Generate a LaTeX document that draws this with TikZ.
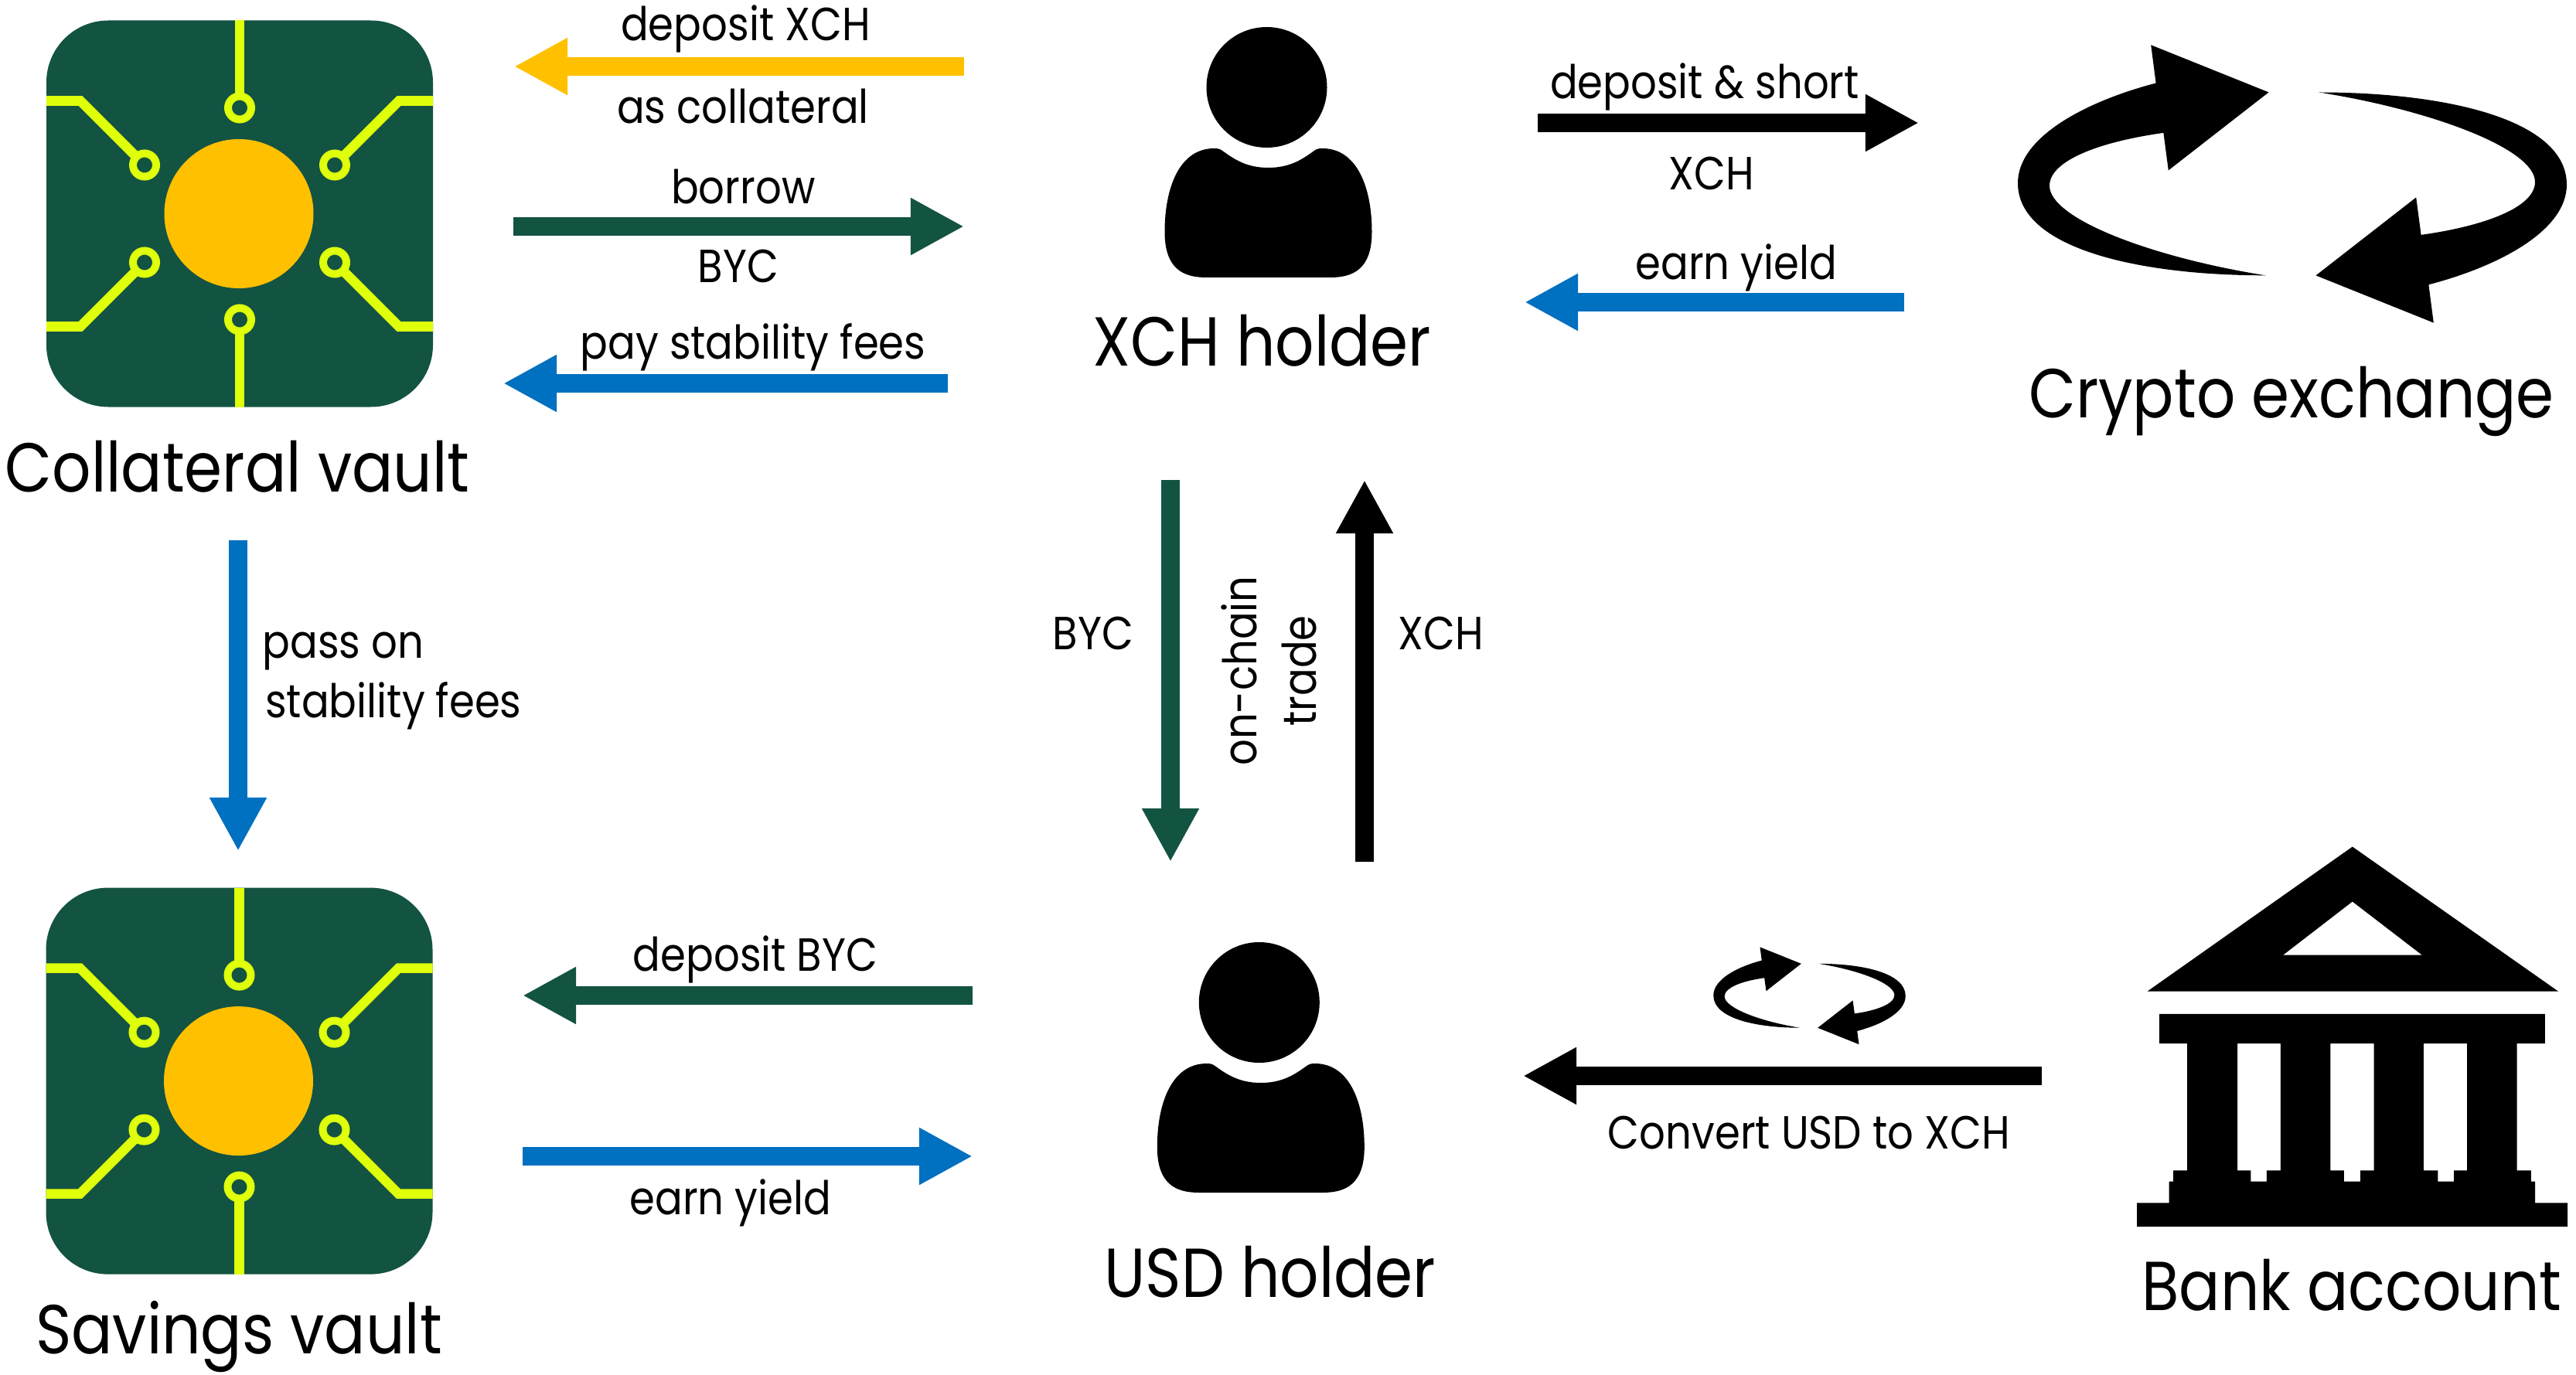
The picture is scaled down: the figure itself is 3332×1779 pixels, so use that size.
\documentclass[tikz,border=0pt]{standalone}
\usepackage{fontspec}
\setmainfont[FakeStretch=0.88]{Poppins}
\usetikzlibrary{arrows.meta}
\definecolor{vaultgreen}{HTML}{135342}
\definecolor{tracelime}{HTML}{DFFF0B}
\definecolor{coinamber}{HTML}{FFC000}
\definecolor{yieldblue}{HTML}{0070C0}
\tikzset{
    flow/.style={line width=.24cm,-{Triangle[length=.69cm,width=.69cm]}},
    biglabel/.style={anchor=base,inner sep=0pt,font=\fontsize{25.5}{30}\selectfont},
    smalllabel/.style={anchor=base,inner sep=0pt,font=\fontsize{17.1}{20}\selectfont},
    trace/.style={draw=tracelime,line width=.125cm},
    ring/.style={draw=tracelime,fill=vaultgreen,line width=.1cm},
    vault/.pic={
        \fill[vaultgreen,rounded corners=.8cm] (-250,-250) rectangle (250,250);
        \draw[trace] (0,-250) -- (0,-137);
        \draw[trace] (0,250) -- (0,137);
        \draw[trace] (-250,-146) -- (-206,-146) -- (-123,-63);
        \draw[trace] (250,-146) -- (206,-146) -- (123,-63);
        \draw[trace] (-250,146) -- (-206,146) -- (-123,63);
        \draw[trace] (250,146) -- (206,146) -- (123,63);
        \foreach \ringx/\ringy in {0/-137,0/137,-123/-63,123/-63,-123/63,123/63}
            \draw[ring] (\ringx,\ringy) circle (15);
        \fill[coinamber] (-1,0) circle (96.5);
    },
    holder/.pic={
        \fill (-2,0) circle (78);
        \fill (0,104) .. controls (-28,104) and (-44,93) .. (-58,83)
            .. controls (-62,80) and (-64,79) .. (-70,79)
            .. controls (-115,79) and (-134,130) .. (-134,187)
            .. controls (-134,235) and (-110,246) .. (-80,246)
            -- (80,246)
            .. controls (110,246) and (134,235) .. (134,187)
            .. controls (134,130) and (115,79) .. (70,79)
            .. controls (64,79) and (62,80) .. (58,83)
            .. controls (44,93) and (28,104) .. (0,104) -- cycle;
    },
    swap/.pic={
        \foreach \turn in {0,180}
            \fill[rotate=\turn] (-30.5,-118.5) -- (-182.8,-179.7) -- (-176.4,-130.4)
                .. controls (-266,-107) and (-355,-61) .. (-355,-1)
                .. controls (-355,84) and (-197,118.5) .. (-34.6,118.4)
                .. controls (-177,96) and (-314,46) .. (-314,2.4)
                .. controls (-314,-31) and (-246,-55) .. (-166.6,-66)
                -- (-160.2,-17.5) -- cycle;
    },
}
\begin{document}
\begin{tikzpicture}[x=.01cm,y=-.01cm]
    \useasboundingbox (0,0) rectangle (3332,1779);

    \pic at (310,276.5) {vault};
    \pic at (309.5,1398.6) {vault};
    \pic at (1640.5,113) {holder};
    \pic at (1630.8,1297) {holder};
    \pic at (2965,237.9) {swap};
    \pic[scale=.35] at (2340.5,1288.3) {swap};

    \fill[even odd rule] (3042.8,1095.5) -- (3308.9,1282.5) -- (2777.7,1282.5) -- cycle
        (3042.8,1166.5) -- (3132.6,1235.5) -- (2953.3,1235.5) -- cycle;
    \fill[even odd rule] (2793.2,1311.8) -- (3291.9,1311.8) -- (3291.9,1350.2) -- (3255.7,1350.2)
        -- (3255.7,1514.3) -- (3273.8,1514.3) -- (3273.8,1528.6) -- (3279.1,1528.6)
        -- (3279.1,1556.3) -- (3321,1556.3) -- (3321,1587) -- (2764.2,1587)
        -- (2764.2,1556.3) -- (2805.7,1556.3) -- (2805.7,1528.6) -- (2811,1528.6)
        -- (2811,1514.3) -- (2829,1514.3) -- (2829,1350.2) -- (2793.2,1350.2) -- cycle
        (2894,1350.2) -- (2949.9,1350.2) -- (2949.9,1514.3) -- (2931.8,1514.3) -- (2931.8,1528.6)
        -- (2911.4,1528.6) -- (2911.4,1514.3) -- (2894,1514.3) -- cycle
        (3014.4,1350.2) -- (3070.7,1350.2) -- (3070.7,1514.3) -- (3053,1514.3) -- (3053,1528.6)
        -- (3031.8,1528.6) -- (3031.8,1514.3) -- (3014.4,1514.3) -- cycle
        (3134.9,1350.2) -- (3191.1,1350.2) -- (3191.1,1514.3) -- (3174.1,1514.3) -- (3174.1,1528.6)
        -- (3153.3,1528.6) -- (3153.3,1514.3) -- (3134.9,1514.3) -- cycle;

    \node[biglabel] (collateral) at (307,636) {Collateral vault};
    \node[biglabel] (savings) at (309,1751) {Savings vault};
    \node[biglabel] (xchholder) at (1632.5,473) {XCH holder};
    \node[biglabel] (usdholder) at (1643,1678) {USD holder};
    \node[biglabel] (crypto) at (2964,541) {Crypto exchange};
    \node[biglabel] (bank) at (3042,1695) {Bank account};

    \coordinate (yellowtail) at (1247,86);
    \coordinate (yellowtip) at (665,86);
    \coordinate (borrowtail) at (664,293);
    \coordinate (borrowtip) at (1247,293);
    \coordinate (feestail) at (1226,496);
    \coordinate (feestip) at (651,496);
    \coordinate (shorttail) at (1989,159);
    \coordinate (shorttip) at (2482,159);
    \coordinate (yieldtail) at (2463,391);
    \coordinate (yieldtip) at (1972,391);
    \coordinate (bycdowntail) at (1514,621);
    \coordinate (bycdowntip) at (1514,1115);
    \coordinate (xchuptail) at (1765,1115);
    \coordinate (xchuptip) at (1765,621);
    \coordinate (passtail) at (308,699);
    \coordinate (passtip) at (308,1101);
    \coordinate (savetail) at (1258,1288);
    \coordinate (savetip) at (676,1288);
    \coordinate (backtail) at (676,1496);
    \coordinate (backtip) at (1258,1496);
    \coordinate (converttail) at (2641,1392);
    \coordinate (converttip) at (1970,1392);

    \draw[flow,coinamber] (yellowtail) -- (yellowtip);
    \draw[flow,vaultgreen] (borrowtail) -- (borrowtip);
    \draw[flow,yieldblue] (feestail) -- (feestip);
    \draw[flow,black] (shorttail) -- (shorttip);
    \draw[flow,yieldblue] (yieldtail) -- (yieldtip);
    \draw[flow,vaultgreen] (bycdowntail) -- (bycdowntip);
    \draw[flow,black] (xchuptail) -- (xchuptip);
    \draw[flow,yieldblue] (passtail) -- (passtip);
    \draw[flow,vaultgreen] (savetail) -- (savetip);
    \draw[flow,yieldblue] (backtail) -- (backtip);
    \draw[flow,black] (converttail) -- (converttip);

    \node[smalllabel] (depositxch) at (964.5,53) {deposit XCH};
    \node[smalllabel] (ascollateral) at (961,160) {as collateral};
    \node[smalllabel] (borrow) at (961.4,264) {borrow};
    \node[smalllabel] (bycone) at (955,365) {BYC};
    \node[smalllabel] (payfees) at (974,464) {pay stability fees};
    \node[smalllabel] (depositshort) at (2205,128) {deposit \& short};
    \node[smalllabel] (xchone) at (2214,246) {XCH};
    \node[smalllabel] (earnone) at (2246,361) {earn yield};
    \node[smalllabel] (byctwo) at (1414,840) {BYC};
    \node[smalllabel,rotate=90] (onchain) at (1625,868) {on-chain};
    \node[smalllabel,rotate=90] (trade) at (1702,868) {trade};
    \node[smalllabel] (xchtwo) at (1864,840) {XCH};
    \node[smalllabel] (passon) at (444,851) {pass on};
    \node[smalllabel] (stability) at (509,928) {stability fees};
    \node[smalllabel] (depositbyc) at (977,1256) {deposit BYC};
    \node[smalllabel] (earntwo) at (945,1571) {earn yield};
    \node[smalllabel] (convert) at (2340,1486) {Convert USD to XCH};
\end{tikzpicture}
\end{document}
